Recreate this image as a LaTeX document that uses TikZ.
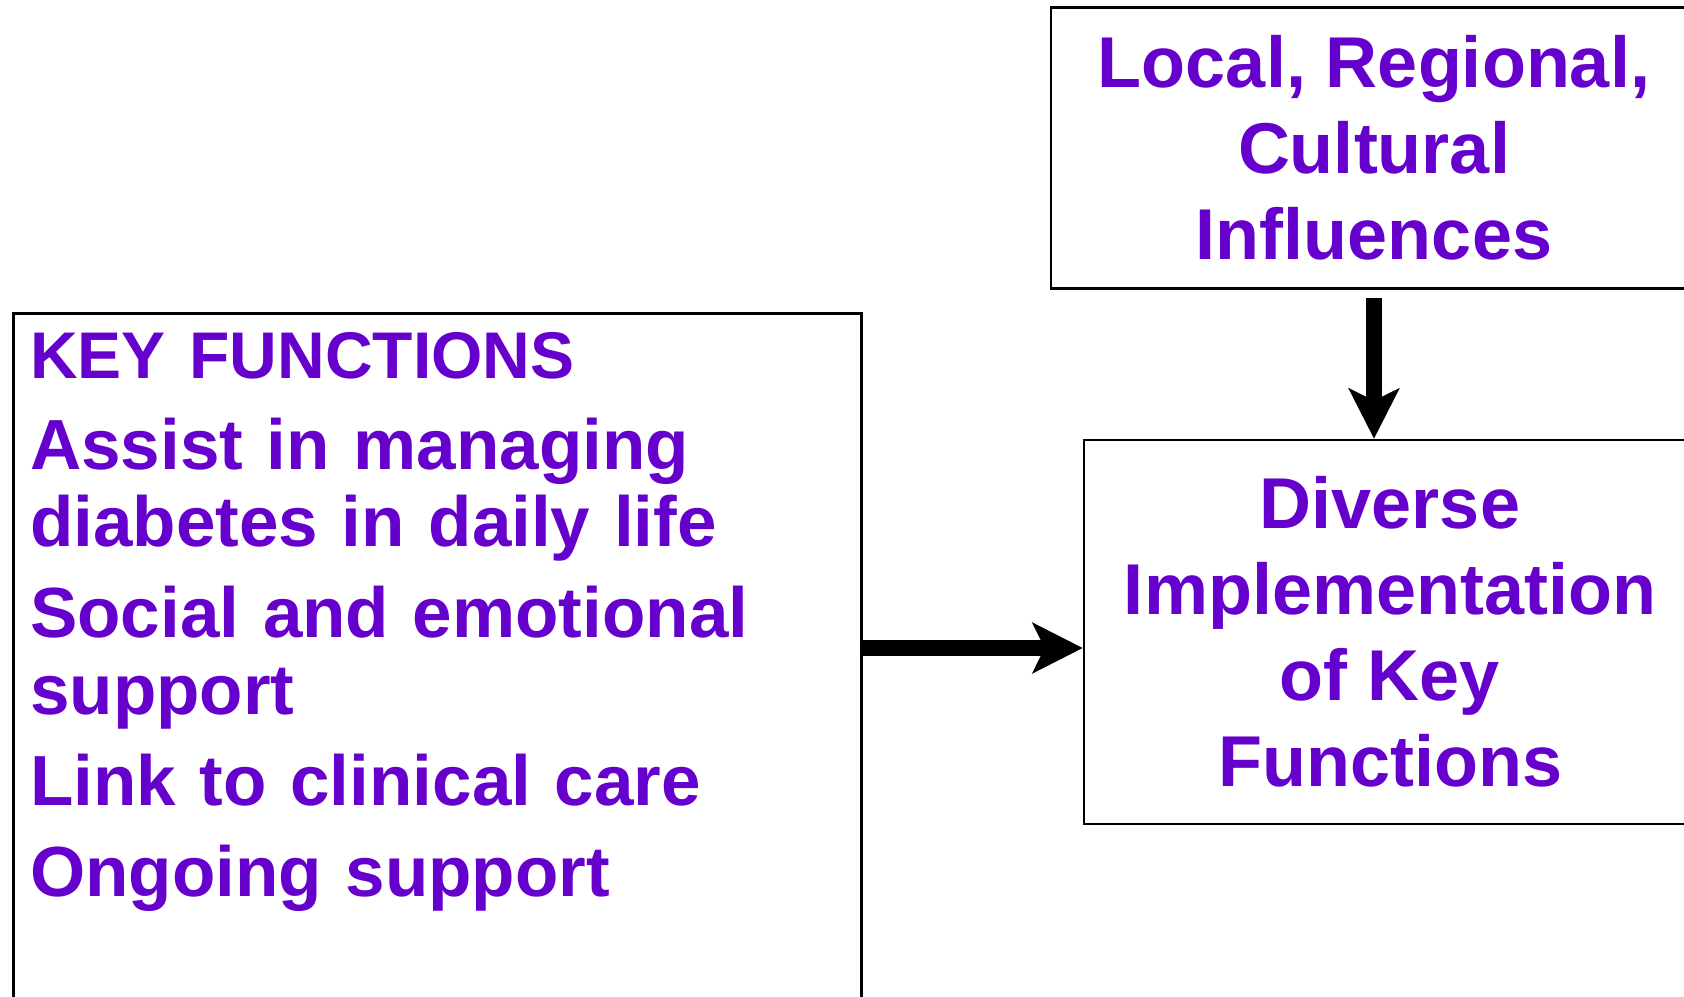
\documentclass[tikz,border=0pt]{standalone}
\usepackage{fontspec}
\setmainfont{Liberation Sans}
\usetikzlibrary{shapes,arrows.meta}
\definecolor{darkpurple}{rgb}{0.4, 0.0, 0.8}

\begin{document}
\begin{tikzpicture}[x=1pt,y=-1pt,
  box/.style={draw, line width=2.5pt, inner sep=0pt},
  bigtext/.style={font=\fontsize{72}{86}\selectfont\bfseries, text=darkpurple, align=center},
  fat/.style={line width=16pt, -{Stealth[length=50pt,width=50pt,inset=12pt]}}]
\useasboundingbox (0,0) rectangle (1684,996);
\node[box, minimum width=646pt, minimum height=281pt, bigtext] (infl) at (1374,148) {Local, Regional,\\Cultural\\Influences};
\node[box, minimum width=612pt, minimum height=384pt, bigtext] (impl) at (1390,632) {Diverse\\Implementation\\of Key\\Functions};
\node[box, anchor=north west, minimum width=848pt, minimum height=720pt] (keyfun) at (12,312) {};
\node[anchor=north west, inner sep=0pt, text width=820pt, align=left, text=darkpurple, font=\fontsize{71}{77}\selectfont\bfseries] (list) at (30,332) {{\fontsize{66}{77}\selectfont KEY FUNCTIONS}\\[14pt]
Assist in managing\\
diabetes in daily life\\[14pt]
Social and emotional\\
support\\[14pt]
Link to clinical care\\[14pt]
Ongoing support};
\coordinate (arrowrow) at ([yshift=-16pt]impl.west);
\draw[fat] (keyfun.east |- arrowrow) -- (arrowrow);
\draw[fat, shorten <=8pt] (infl.south) -- (infl.south |- impl.north);
\end{tikzpicture}
\end{document}
